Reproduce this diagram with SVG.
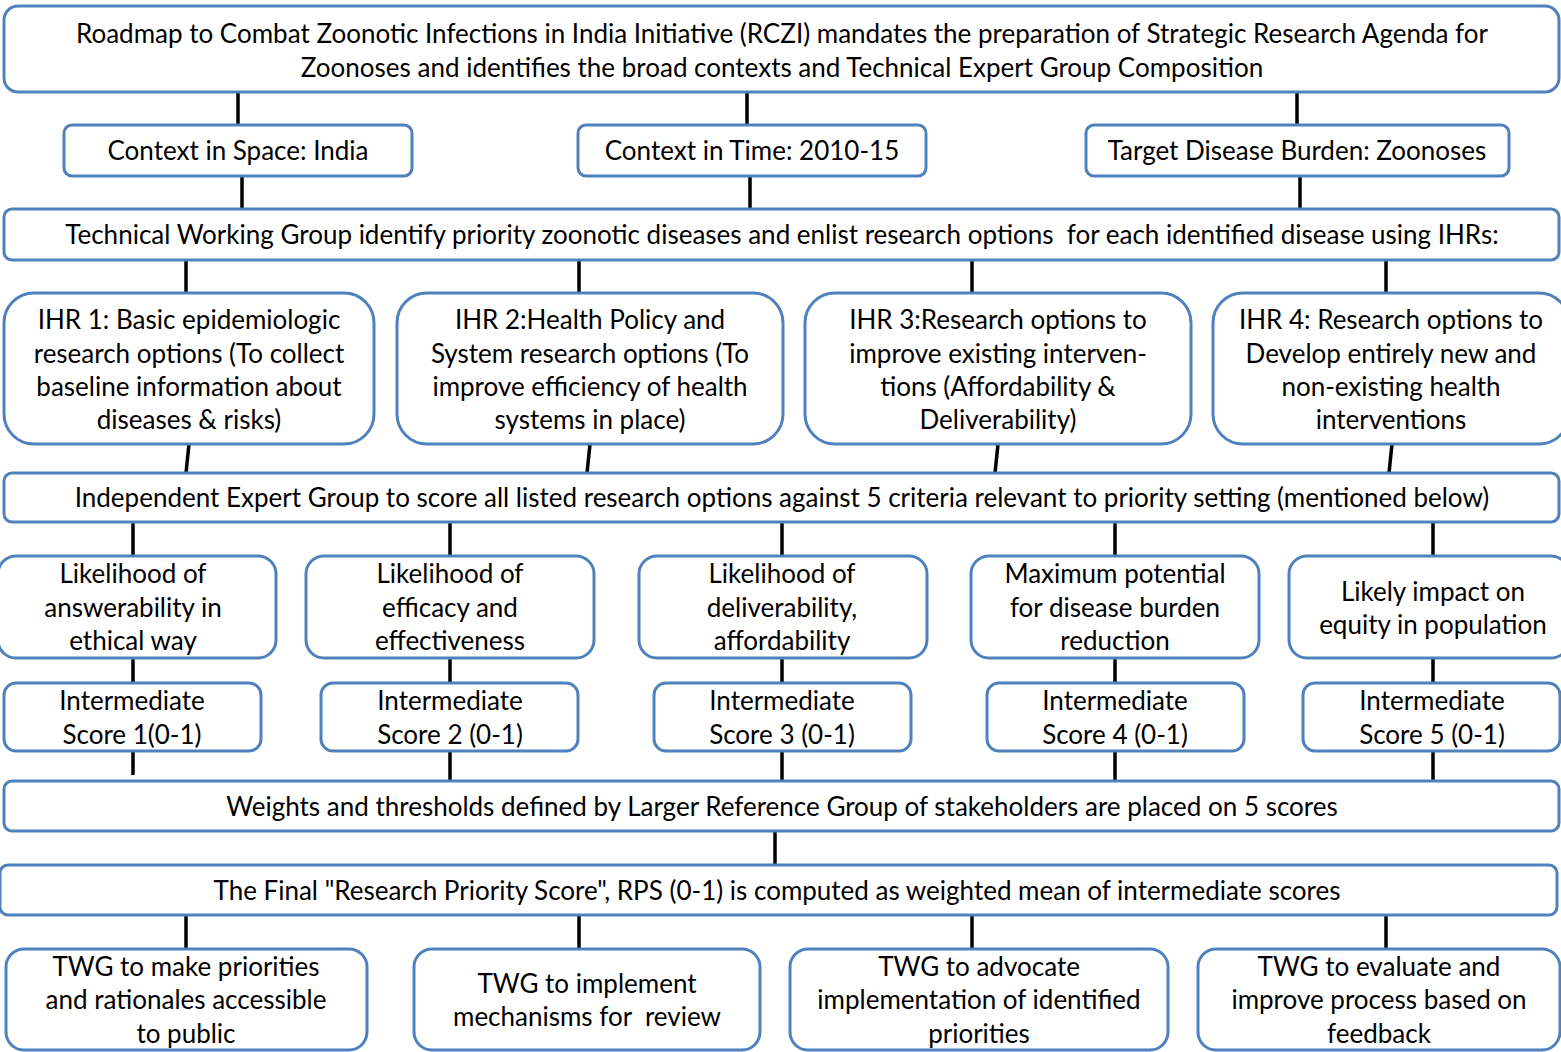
<svg xmlns="http://www.w3.org/2000/svg" width="1561" height="1052" viewBox="0 0 1561 1052">
<style>
.b{fill:#fff;stroke:#4F81BD;stroke-width:3}
.t{font-family:Lato,"Liberation Sans",sans-serif;font-size:26px;fill:#000;text-anchor:middle;white-space:pre}
.c line{stroke:#000;stroke-width:3.5}
</style>
<rect width="1561" height="1052" fill="#fff"/>
<g class="c" id="connectors">
<line x1="238" y1="92" x2="238" y2="125"/>
<line x1="747" y1="92" x2="747" y2="125"/>
<line x1="1297" y1="92" x2="1297" y2="125"/>
<line x1="242" y1="176" x2="242" y2="209"/>
<line x1="750" y1="176" x2="750" y2="209"/>
<line x1="1300" y1="176" x2="1300" y2="209"/>
<line x1="186" y1="260" x2="186" y2="293"/>
<line x1="579" y1="260" x2="579" y2="293"/>
<line x1="972" y1="260" x2="972" y2="293"/>
<line x1="1386" y1="260" x2="1386" y2="293"/>
<line x1="189" y1="444" x2="186" y2="473"/>
<line x1="590" y1="444" x2="587" y2="473"/>
<line x1="998" y1="444" x2="995" y2="473"/>
<line x1="1392" y1="444" x2="1389" y2="473"/>
<line x1="133" y1="522" x2="133" y2="556"/>
<line x1="450" y1="522" x2="450" y2="556"/>
<line x1="782" y1="522" x2="782" y2="556"/>
<line x1="1115" y1="522" x2="1115" y2="556"/>
<line x1="1433" y1="522" x2="1433" y2="556"/>
<line x1="133" y1="658" x2="133" y2="683"/>
<line x1="450" y1="658" x2="450" y2="683"/>
<line x1="782" y1="658" x2="782" y2="683"/>
<line x1="1115" y1="658" x2="1115" y2="683"/>
<line x1="1433" y1="658" x2="1433" y2="683"/>
<line x1="133" y1="751" x2="133" y2="775"/>
<line x1="450" y1="751" x2="450" y2="781"/>
<line x1="782" y1="751" x2="782" y2="781"/>
<line x1="1115" y1="751" x2="1115" y2="781"/>
<line x1="1433" y1="751" x2="1433" y2="781"/>
<line x1="775" y1="831" x2="775" y2="865"/>
<line x1="186" y1="915" x2="186" y2="949"/>
<line x1="579" y1="915" x2="579" y2="949"/>
<line x1="972" y1="915" x2="972" y2="949"/>
<line x1="1386" y1="915" x2="1386" y2="949"/>
</g>
<g id="top"><rect class="b" x="4" y="6" width="1555" height="86" rx="14"/>
<text class="t" x="782" y="43">Roadmap to Combat Zoonotic Infections in India Initiative (RCZI) mandates the preparation of Strategic Research Agenda for</text>
<text class="t" x="782" y="77">Zoonoses and identifies the broad contexts and Technical Expert Group Composition</text></g>
<g id="ctx-space"><rect class="b" x="64" y="125" width="348" height="51" rx="8"/><text class="t" x="238" y="160">Context in Space: India</text></g>
<g id="ctx-time"><rect class="b" x="578" y="125" width="348" height="51" rx="8"/><text class="t" x="752" y="160">Context in Time: 2010-15</text></g>
<g id="target"><rect class="b" x="1086" y="125" width="423" height="51" rx="8"/><text class="t" x="1297" y="160">Target Disease Burden: Zoonoses</text></g>
<g id="twg"><rect class="b" x="4" y="209" width="1555" height="51" rx="8"/><text class="t" x="782" y="244">Technical Working Group identify priority zoonotic diseases and enlist research options  for each identified disease using IHRs:</text></g>
<g id="ihr1"><rect class="b" x="4" y="293" width="370" height="151" rx="30"/>
<text class="t" x="189" y="329">IHR 1: Basic epidemiologic</text><text class="t" x="189" y="363">research options (To collect</text><text class="t" x="189" y="396">baseline information about</text><text class="t" x="189" y="429">diseases &amp; risks)</text></g>
<g id="ihr2"><rect class="b" x="397" y="293" width="386" height="151" rx="30"/>
<text class="t" x="590" y="329">IHR 2:Health Policy and</text><text class="t" x="590" y="363">System research options (To</text><text class="t" x="590" y="396">improve efficiency of health</text><text class="t" x="590" y="429">systems in place)</text></g>
<g id="ihr3"><rect class="b" x="805" y="293" width="386" height="151" rx="30"/>
<text class="t" x="998" y="329">IHR 3:Research options to</text><text class="t" x="998" y="363">improve existing interven-</text><text class="t" x="998" y="396">tions (Affordability &amp;</text><text class="t" x="998" y="429">Deliverability)</text></g>
<g id="ihr4"><rect class="b" x="1213" y="293" width="356" height="151" rx="30"/>
<text class="t" x="1391" y="329">IHR 4: Research options to</text><text class="t" x="1391" y="363">Develop entirely new and</text><text class="t" x="1391" y="396">non-existing health</text><text class="t" x="1391" y="429">interventions</text></g>
<g id="ieg"><rect class="b" x="4" y="473" width="1555" height="49" rx="8"/><text class="t" x="782" y="507">Independent Expert Group to score all listed research options against 5 criteria relevant to priority setting (mentioned below)</text></g>
<g id="crit1"><rect class="b" x="-2" y="556" width="278" height="102" rx="18"/>
<text class="t" x="133" y="583">Likelihood of</text><text class="t" x="133" y="617">answerability in</text><text class="t" x="133" y="650">ethical way</text></g>
<g id="crit2"><rect class="b" x="306" y="556" width="288" height="102" rx="18"/>
<text class="t" x="450" y="583">Likelihood of</text><text class="t" x="450" y="617">efficacy and</text><text class="t" x="450" y="650">effectiveness</text></g>
<g id="crit3"><rect class="b" x="639" y="556" width="288" height="102" rx="18"/>
<text class="t" x="782" y="583">Likelihood of</text><text class="t" x="782" y="617">deliverability,</text><text class="t" x="782" y="650">affordability</text></g>
<g id="crit4"><rect class="b" x="971" y="556" width="288" height="102" rx="18"/>
<text class="t" x="1115" y="583">Maximum potential</text><text class="t" x="1115" y="617">for disease burden</text><text class="t" x="1115" y="650">reduction</text></g>
<g id="crit5"><rect class="b" x="1289" y="556" width="280" height="102" rx="18"/>
<text class="t" x="1433" y="601">Likely impact on</text><text class="t" x="1433" y="634">equity in population</text></g>
<g id="score1"><rect class="b" x="4" y="683" width="257" height="68" rx="12"/><text class="t" x="132" y="710">Intermediate</text><text class="t" x="132" y="744">Score 1(0-1)</text></g>
<g id="score2"><rect class="b" x="321" y="683" width="257" height="68" rx="12"/><text class="t" x="450" y="710">Intermediate</text><text class="t" x="450" y="744">Score 2 (0-1)</text></g>
<g id="score3"><rect class="b" x="654" y="683" width="257" height="68" rx="12"/><text class="t" x="782" y="710">Intermediate</text><text class="t" x="782" y="744">Score 3 (0-1)</text></g>
<g id="score4"><rect class="b" x="987" y="683" width="257" height="68" rx="12"/><text class="t" x="1115" y="710">Intermediate</text><text class="t" x="1115" y="744">Score 4 (0-1)</text></g>
<g id="score5"><rect class="b" x="1303" y="683" width="257" height="68" rx="12"/><text class="t" x="1432" y="710">Intermediate</text><text class="t" x="1432" y="744">Score 5 (0-1)</text></g>
<g id="weights"><rect class="b" x="4" y="781" width="1555" height="50" rx="8"/><text class="t" x="782" y="816">Weights and thresholds defined by Larger Reference Group of stakeholders are placed on 5 scores</text></g>
<g id="final"><rect class="b" x="0" y="865" width="1557" height="50" rx="8"/><text class="t" x="777" y="900">The Final "Research Priority Score", RPS (0-1) is computed as weighted mean of intermediate scores</text></g>
<g id="out1"><rect class="b" x="6" y="949" width="361" height="101" rx="18"/>
<text class="t" x="186" y="976">TWG to make priorities</text><text class="t" x="186" y="1009">and rationales accessible</text><text class="t" x="186" y="1043">to public</text></g>
<g id="out2"><rect class="b" x="414" y="949" width="346" height="101" rx="18"/>
<text class="t" x="587" y="993">TWG to implement</text><text class="t" x="587" y="1026">mechanisms for  review</text></g>
<g id="out3"><rect class="b" x="790" y="949" width="378" height="101" rx="18"/>
<text class="t" x="979" y="976">TWG to advocate</text><text class="t" x="979" y="1009">implementation of identified</text><text class="t" x="979" y="1043">priorities</text></g>
<g id="out4"><rect class="b" x="1198" y="949" width="362" height="101" rx="18"/>
<text class="t" x="1379" y="976">TWG to evaluate and</text><text class="t" x="1379" y="1009">improve process based on</text><text class="t" x="1379" y="1043">feedback</text></g>
</svg>
